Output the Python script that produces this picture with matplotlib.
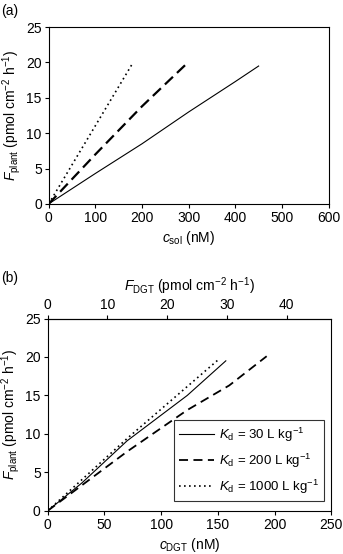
import matplotlib
matplotlib.use("Agg")
import matplotlib.pyplot as plt

plt.rcParams['font.family'] = ['Liberation Sans', 'DejaVu Sans']
plt.rcParams['mathtext.fontset'] = 'custom'
plt.rcParams['mathtext.rm'] = 'Liberation Sans'
plt.rcParams['mathtext.it'] = 'Liberation Sans:italic'
plt.rcParams['font.size'] = 10

# Panel (a): F_plant vs c_sol
a_kd30_x = [0, 100, 200, 300, 400, 450]
a_kd30_y = [0, 4.3, 8.5, 13.0, 17.3, 19.5]
a_kd200_x = [0, 100, 200, 300]
a_kd200_y = [0, 7.0, 13.8, 20.1]
a_kd1000_x = [0, 180]
a_kd1000_y = [0, 19.9]

# Panel (b): F_plant vs c_DGT
b_kd30_x = [0, 30, 70, 123, 157]
b_kd30_y = [0, 3.6, 9.1, 15.0, 19.5]
b_kd200_x = [0, 30, 70, 123, 160, 193]
b_kd200_y = [0, 3.3, 7.7, 13.1, 16.3, 20.1]
b_kd1000_x = [0, 70, 150]
b_kd1000_y = [0, 9.4, 19.6]

labels = [r'$K_{\mathrm{d}}$ = 30 L kg$^{-1}$',
          r'$K_{\mathrm{d}}$ = 200 L kg$^{-1}$',
          r'$K_{\mathrm{d}}$ = 1000 L kg$^{-1}$']

fdgt_factor = 0.19  # F_DGT per nM c_DGT

fig = plt.figure(figsize=(3.43, 5.54), dpi=100)

ax1 = fig.add_axes([0.142, 0.632, 0.816, 0.319])
ax1.plot(a_kd30_x, a_kd30_y, color='black', lw=0.8, ls='-')
ax1.plot(a_kd200_x, a_kd200_y, color='black', lw=1.6, ls=(0, (5, 2.5)))
ax1.plot(a_kd1000_x, a_kd1000_y, color='black', lw=1.2, ls=(0, (1, 2)))
ax1.set_xlim(0, 600)
ax1.set_ylim(0, 25)
ax1.set_xticks([0, 100, 200, 300, 400, 500, 600])
ax1.set_yticks([0, 5, 10, 15, 20, 25])
ax1.set_xlabel(r'$c_{\mathrm{sol}}$ (nM)', labelpad=3)
ax1.set_ylabel(r'$F_{\mathrm{plant}}$ (pmol cm$^{-2}$ h$^{-1}$)', labelpad=2)
ax1.tick_params(direction='out', length=3, width=0.8, pad=2)

ax2 = fig.add_axes([0.139, 0.078, 0.827, 0.347])
ax2.plot(b_kd30_x, b_kd30_y, color='black', lw=0.8, ls='-', label=labels[0])
ax2.plot(b_kd200_x, b_kd200_y, color='black', lw=1.3, ls=(0, (5, 3)), label=labels[1])
ax2.plot(b_kd1000_x, b_kd1000_y, color='black', lw=1.2, ls=(0, (1, 2)), label=labels[2])
ax2.set_xlim(0, 250)
ax2.set_ylim(0, 25)
ax2.set_xticks([0, 50, 100, 150, 200, 250])
ax2.set_yticks([0, 5, 10, 15, 20, 25])
ax2.set_xlabel(r'$c_{\mathrm{DGT}}$ (nM)', labelpad=3)
ax2.set_ylabel(r'$F_{\mathrm{plant}}$ (pmol cm$^{-2}$ h$^{-1}$)', labelpad=2)
ax2.tick_params(direction='out', length=3, width=0.8, pad=2)
leg = ax2.legend(loc='lower right', bbox_to_anchor=(0.975, 0.05), borderaxespad=0,
                 frameon=True, fancybox=False, edgecolor='black', fontsize=9.5,
                 handlelength=2.6, borderpad=0.4, labelspacing=0.6, handletextpad=0.4)
leg.get_frame().set_linewidth(0.8)

sec = ax2.secondary_xaxis('top', functions=(lambda x: x * fdgt_factor, lambda x: x / fdgt_factor))
sec.set_xticks([0, 10, 20, 30, 40])
sec.set_xlabel(r'$F_{\mathrm{DGT}}$ (pmol cm$^{-2}$ h$^{-1}$)', labelpad=5)
sec.tick_params(direction='out', length=3, width=0.8, pad=2)

fig.text(0.003, 0.992, '(a)', ha='left', va='top', fontsize=10)
fig.text(0.003, 0.510, '(b)', ha='left', va='top', fontsize=10)

fig.savefig('out.png', dpi=100)
